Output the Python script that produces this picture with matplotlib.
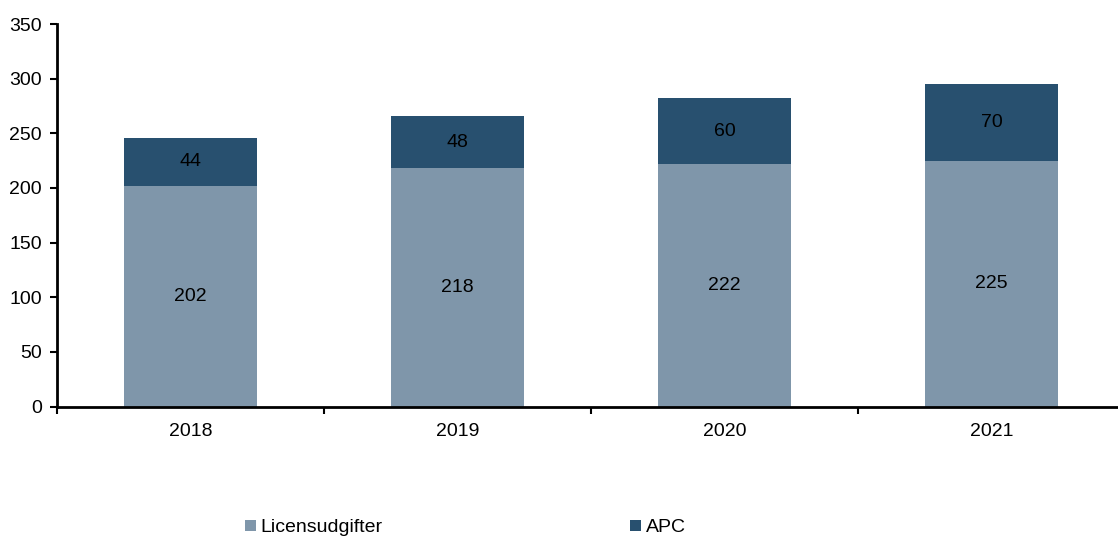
import matplotlib
matplotlib.use("Agg")
import matplotlib.pyplot as plt
import numpy as np

years = ["2018", "2019", "2020", "2021"]
licens = [202, 218, 222, 225]
apc = [44, 48, 60, 70]
series_names = ["Licensudgifter", "APC"]
yticks = [0, 50, 100, 150, 200, 250, 300, 350]

c_light = "#7F96AA"
c_dark = "#28506F"
fs = 14

plt.rcParams['font.family'] = ['Liberation Sans', 'DejaVu Sans']

W, H = 1118, 536
fig = plt.figure(figsize=(W/100, H/100), dpi=100)
L, B, T = 57, 406.5, 24
ax = fig.add_axes([L/W, 1-B/H, 1-L/W, (B-T)/H])

x = np.arange(len(years))
w = 0.5
b1 = ax.bar(x, licens, w, color=c_light, label=series_names[0])
b2 = ax.bar(x, apc, w, bottom=licens, color=c_dark, label=series_names[1])

for i in range(len(years)):
    ax.text(x[i], licens[i] / 2, str(licens[i]), ha='center', va='center', fontsize=fs, color='black')
    ax.text(x[i], licens[i] + apc[i] / 2, str(apc[i]), ha='center', va='center', fontsize=fs, color='black')

ax.set_yticks(yticks)
ax.tick_params(axis='y', labelsize=fs, length=5, width=1.5, direction='out', pad=6)
ax.set_xticks(x)
ax.set_xticklabels(years)
ax.tick_params(axis='x', which='major', length=0, labelsize=fs, pad=12)
ax.set_xticks(np.arange(-0.5, len(years) - 1, 1.0), minor=True)
ax.tick_params(axis='x', which='minor', length=5, width=1.5, direction='out')
ax.set_xlim(-0.5, -0.5 + (W - L)/267)
ax.set_ylim(0, 350)

for s in ['top', 'right']:
    ax.spines[s].set_visible(False)
ax.spines['left'].set_linewidth(2)
ax.spines['bottom'].set_linewidth(2)

# legend: two entries placed separately
leg1 = fig.legend(handles=[b1], labels=[series_names[0]], loc='center left',
                  bbox_to_anchor=(245/W, 1-528/H), frameon=False, fontsize=fs,
                  handlelength=0.55, handleheight=0.55, handletextpad=0.25, borderpad=0, borderaxespad=0)
leg2 = fig.legend(handles=[b2], labels=[series_names[1]], loc='center left',
                  bbox_to_anchor=(630/W, 1-528/H), frameon=False, fontsize=fs,
                  handlelength=0.55, handleheight=0.55, handletextpad=0.25, borderpad=0, borderaxespad=0)

fig.savefig("out.png", dpi=100)
